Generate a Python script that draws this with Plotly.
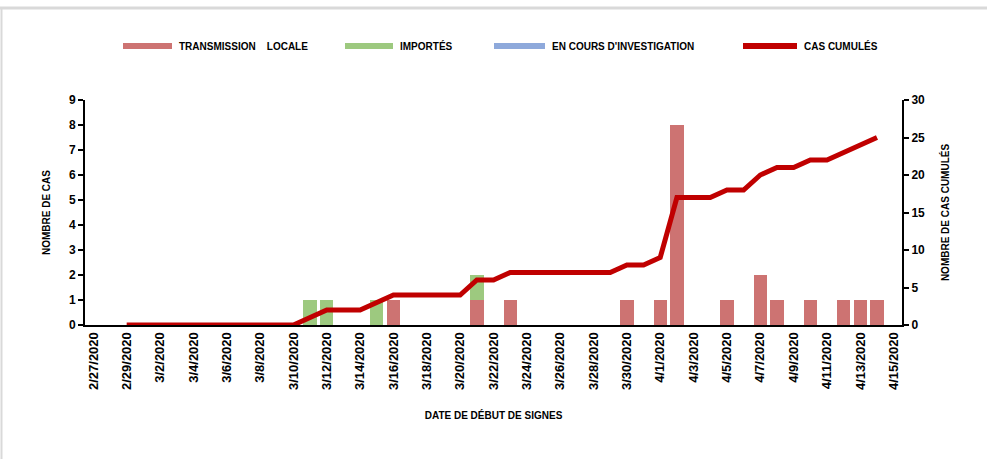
import plotly.graph_objects as go
import pandas as pd

# Catégories : une par jour du 27/02/2020 au 15/04/2020
jours = pd.date_range("2020-02-27", "2020-04-15", freq="D")
dates = [f"{d.month}/{d.day}/{d.year}" for d in jours]

# Cas par jour (axe gauche)
transmission_locale = [0, 0, 0, 0, 0, 0, 0, 0, 0, 0,
                       0, 0, 0, 0, 0, 0, 0, 0, 1, 0,
                       0, 0, 0, 1, 0, 1, 0, 0, 0, 0,
                       0, 0, 1, 0, 1, 8, 0, 0, 1, 0,
                       2, 1, 0, 1, 0, 1, 1, 1, 0]
importes = [0, 0, 0, 0, 0, 0, 0, 0, 0, 0,
            0, 0, 0, 1, 1, 0, 0, 1, 0, 0,
            0, 0, 0, 1, 0, 0, 0, 0, 0, 0,
            0, 0, 0, 0, 0, 0, 0, 0, 0, 0,
            0, 0, 0, 0, 0, 0, 0, 0, 0]
en_cours = [0] * 49

# Cas cumulés (axe droit)
cas_cumules = [None, None, 0, 0, 0, 0, 0, 0, 0, 0,
               0, 0, 0, 1, 2, 2, 2, 3, 4, 4,
               4, 4, 4, 6, 6, 7, 7, 7, 7, 7,
               7, 7, 8, 8, 9, 17, 17, 17, 18, 18,
               20, 21, 21, 22, 22, 23, 24, 25, None]

ROUGE_BARRE = "#CD7372"
VERT = "#9DC97F"
BLEU = "#8EA9DB"
ROUGE_LIGNE = "#C00000"

police = dict(family="Liberation Sans", color="black", weight="bold")

fig = go.Figure()
fig.add_trace(go.Bar(x=dates, y=transmission_locale, name="TRANSMISSION    LOCALE",
                     marker=dict(color=ROUGE_BARRE, line=dict(width=0))))
fig.add_trace(go.Bar(x=dates, y=importes, name="IMPORTÉS",
                     marker=dict(color=VERT, line=dict(width=0))))
fig.add_trace(go.Bar(x=dates, y=en_cours, name="EN COURS D'INVESTIGATION",
                     marker=dict(color=BLEU, line=dict(width=0))))
fig.add_trace(go.Scatter(x=dates, y=cas_cumules, name="CAS CUMULÉS", yaxis="y2",
                         mode="lines", line=dict(color=ROUGE_LIGNE, width=5),
                         connectgaps=False))

# Légende dessinée à la main (traits larges comme dans l'original)
legende = [
    ("TRANSMISSION    LOCALE", ROUGE_BARRE, 123, 172),
    ("IMPORTÉS", VERT, 345, 393),
    ("EN COURS D'INVESTIGATION", BLEU, 494, 545),
    ("CAS CUMULÉS", ROUGE_LIGNE, 743, 797),
]
gauche, droite, haut, bas = 85, 902, 100, 325
larg, haut_px = droite - gauche, bas - haut
y_leg = (bas - 46) / haut_px
for texte, couleur, x0, x1 in legende:
    fig.add_shape(type="line", xref="paper", yref="paper",
                  x0=(x0 - gauche) / larg, x1=(x1 - gauche) / larg, y0=y_leg, y1=y_leg,
                  line=dict(color=couleur, width=6))
    fig.add_annotation(xref="paper", yref="paper", x=(x1 + 5 - gauche) / larg, y=y_leg,
                       text=texte, showarrow=False, xanchor="left", yanchor="middle",
                       font=dict(size=10, **police))

# Cadre gris clair
fig.add_shape(type="line", xref="paper", yref="paper",
              x0=-85 / larg, x1=902 / larg, y0=(bas - 8) / haut_px, y1=(bas - 8) / haut_px,
              line=dict(color="#D9D9D9", width=3))
fig.add_shape(type="line", xref="paper", yref="paper",
              x0=-83.5 / larg, x1=-83.5 / larg, y0=(bas - 8) / haut_px, y1=-140 / haut_px,
              line=dict(color="#D9D9D9", width=2))

fig.update_layout(
    width=987, height=459,
    margin=dict(l=gauche, r=987 - droite, t=haut, b=459 - bas),
    barmode="stack", bargap=0.2,
    showlegend=False,
    plot_bgcolor="white", paper_bgcolor="white",
    xaxis=dict(type="category", tickvals=dates[::2], ticktext=dates[::2],
               tickangle=-90, tickfont=dict(size=13, **police),
               showline=True, linecolor="black", linewidth=2, showgrid=False,
               ticks="", title=dict(text="DATE DE DÉBUT DE SIGNES",
                                    font=dict(size=10, **police), standoff=23)),
    yaxis=dict(range=[0, 9], dtick=1, showline=True, linecolor="black", linewidth=2,
               ticks="outside", ticklen=5, tickwidth=2, tickcolor="black",
               showgrid=False, zeroline=False, tickfont=dict(size=12, **police),
               title=dict(text="NOMBRE DE CAS", font=dict(size=10, **police), standoff=16)),
    yaxis2=dict(range=[0, 30], dtick=5, overlaying="y", side="right",
                showline=True, linecolor="black", linewidth=2,
                ticks="outside", ticklen=5, tickwidth=2, tickcolor="black",
                showgrid=False, zeroline=False, tickfont=dict(size=12, **police),
                title=dict(text="NOMBRE DE CAS CUMULÉS", font=dict(size=10, **police), standoff=18)),
)

fig.write_html("out.html", config={"displayModeBar": False},
               post_script="document.body.style.margin='0';")
